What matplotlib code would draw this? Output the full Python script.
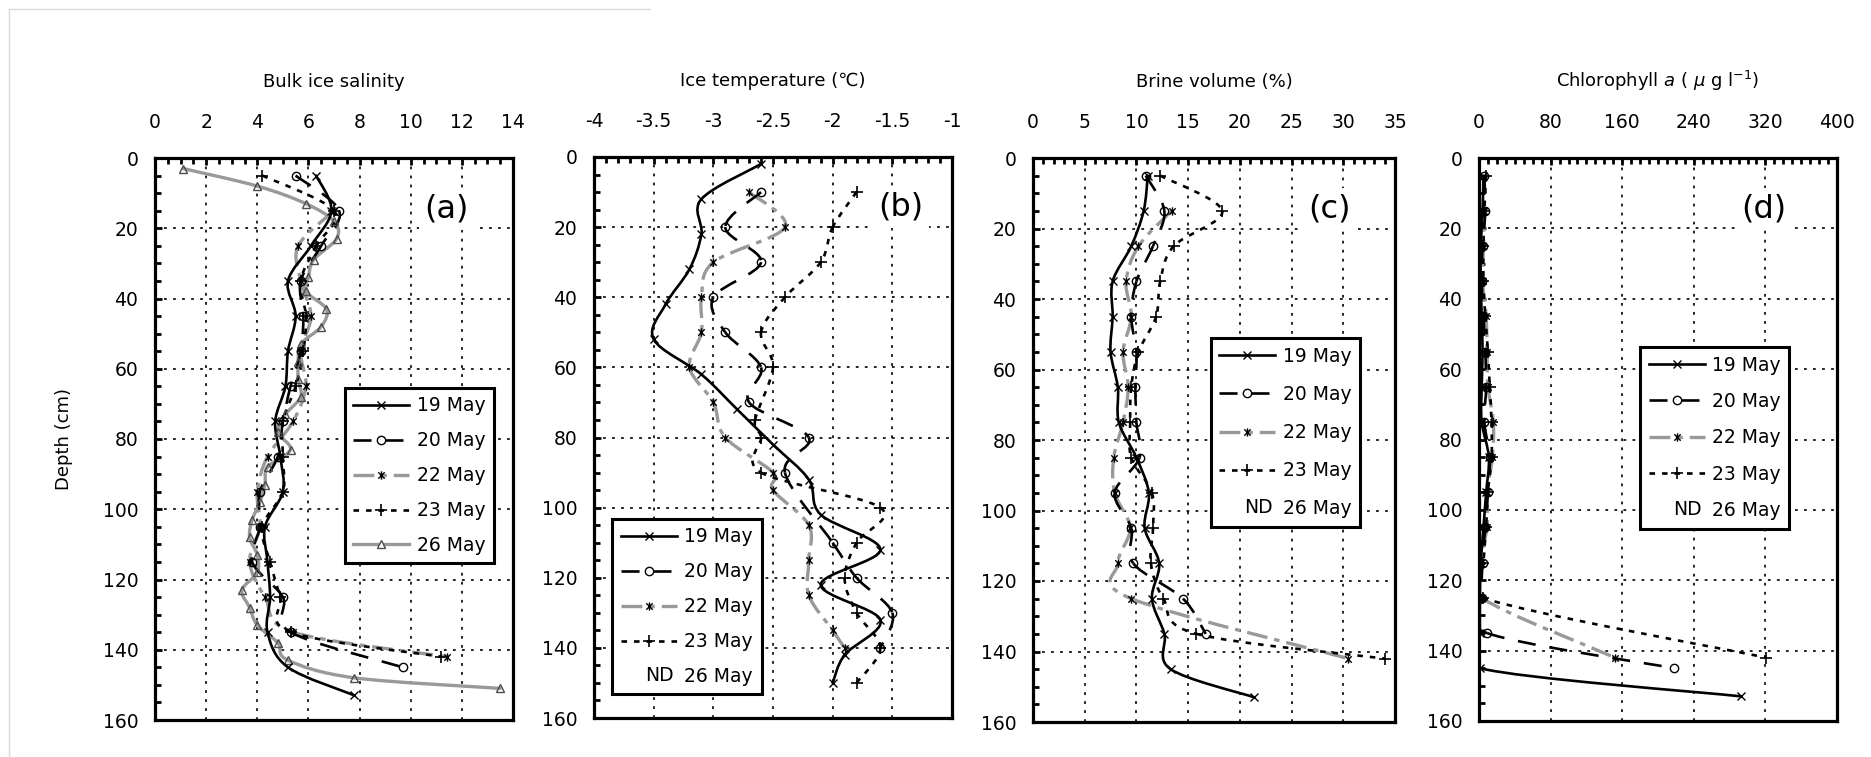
import numpy as np
import matplotlib
matplotlib.use('Agg')
import matplotlib.pyplot as plt
from matplotlib.path import Path
from matplotlib.patches import PathPatch
from matplotlib.lines import Line2D
from matplotlib.legend_handler import HandlerBase
from matplotlib.text import Text
from matplotlib.ticker import MultipleLocator

plt.rcParams['font.family'] = ['DejaVu Sans']
plt.rcParams['lines.scale_dashes'] = False

dates = ['19 May', '20 May', '22 May', '23 May', '26 May']

# (a) bulk ice salinity
sal_d_19 = [5, 15, 25, 35, 45, 55, 65, 75, 85, 95, 105, 115, 125, 135, 145, 153]
sal_19 = [6.3, 6.9, 6.1, 5.2, 5.5, 5.2, 5.1, 4.7, 4.9, 5.0, 4.3, 4.4, 4.5, 4.4, 5.2, 7.8]
sal_d_20 = [5, 15, 25, 35, 45, 55, 65, 75, 85, 95, 105, 115, 125, 135, 145]
sal_20 = [5.5, 7.2, 6.5, 5.7, 5.8, 5.7, 5.3, 5.0, 4.8, 4.1, 4.1, 3.8, 5.0, 5.3, 9.7]
sal_d_22 = [15, 25, 35, 45, 55, 65, 75, 85, 95, 105, 115, 125, 135, 142]
sal_22 = [7.0, 5.6, 5.7, 6.1, 5.7, 5.9, 5.4, 4.4, 4.0, 4.1, 3.7, 4.3, 5.4, 11.4]
sal_d_23 = [5, 15, 25, 35, 45, 55, 65, 75, 85, 95, 105, 115, 125, 135, 142]
sal_23 = [4.2, 7.0, 6.3, 5.7, 5.9, 5.8, 5.5, 5.0, 5.0, 5.0, 4.2, 4.5, 4.9, 5.3, 11.2]
sal_d_26 = [3, 8, 13, 18, 23, 29, 34, 38, 43, 48, 53, 58, 63, 68, 73, 78, 83, 88,
            93, 98, 103, 108, 113, 118, 123, 128, 133, 138, 143, 148, 151]
sal_26 = [1.1, 4.0, 5.9, 7.0, 7.1, 6.2, 6.0, 5.9, 6.7, 6.5, 5.7, 5.6, 5.6, 5.7, 5.1, 4.8,
          5.3, 4.4, 4.3, 4.1, 3.8, 3.7, 4.0, 4.0, 3.4, 3.7, 4.0, 4.8, 5.2, 7.8, 13.5]

# (b) ice temperature
tmp_d_19 = [2, 12, 22, 32, 42, 52, 62, 72, 82, 92, 102, 112, 122, 132, 142, 150]
tmp_19 = [-2.6, -3.1, -3.1, -3.2, -3.4, -3.5, -3.1, -2.8, -2.5, -2.2, -2.1, -1.6, -2.1, -1.6, -1.9, -2.0]
tmp_d_20 = [10, 20, 30, 40, 50, 60, 70, 80, 90, 110, 120, 130, 140]
tmp_20 = [-2.6, -2.9, -2.6, -3.0, -2.9, -2.6, -2.7, -2.2, -2.4, -2.0, -1.8, -1.5, -1.6]
tmp_d_22 = [10, 20, 30, 40, 50, 60, 70, 80, 90, 95, 105, 115, 125, 135, 140]
tmp_22 = [-2.7, -2.4, -3.0, -3.1, -3.1, -3.2, -3.0, -2.9, -2.5, -2.5, -2.2, -2.2, -2.2, -2.0, -1.9]
tmp_d_23 = [10, 20, 30, 40, 50, 60, 75, 80, 90, 100, 110, 120, 130, 140, 150]
tmp_23 = [-1.8, -2.0, -2.1, -2.4, -2.6, -2.5, -2.65, -2.6, -2.6, -1.6, -1.8, -1.9, -1.8, -1.6, -1.8]

# (c) brine volume
bv_d_19 = [5, 15, 25, 35, 45, 55, 65, 75, 85, 95, 105, 115, 125, 135, 145, 153]
bv_19 = [11.1, 10.7, 9.5, 7.7, 7.7, 7.5, 8.2, 8.3, 10.0, 11.2, 10.8, 12.2, 11.5, 12.7, 13.3, 21.4]
bv_d_20 = [5, 15, 25, 35, 45, 55, 65, 75, 85, 95, 105, 115, 125, 135]
bv_20 = [10.9, 12.7, 11.6, 10.0, 9.5, 10.0, 9.9, 10.0, 10.3, 7.9, 9.5, 9.7, 14.5, 16.7]
bv_d_22 = [15, 25, 35, 45, 55, 65, 75, 85, 95, 105, 115, 125, 142]
bv_22 = [13.4, 10.2, 9.0, 9.5, 8.7, 9.2, 8.7, 7.8, 7.9, 9.4, 8.2, 9.5, 30.5]
bv_d_23 = [5, 15, 25, 35, 45, 55, 65, 75, 85, 95, 105, 115, 125, 135, 142]
bv_23 = [12.3, 18.3, 13.6, 12.3, 11.9, 10.2, 9.5, 9.4, 9.5, 11.5, 11.6, 11.4, 12.6, 15.8, 34.0]

# (d) chlorophyll a
chl_d_19 = [5, 15, 25, 35, 45, 55, 65, 75, 85, 95, 105, 115, 125, 135, 145, 153]
chl_19 = [5, 4, 2, 2, 3, 4, 3, 3, 11, 8, 5, 2, 1, 1, 1, 293]
chl_d_20 = [5, 15, 25, 35, 45, 55, 65, 75, 85, 95, 105, 115, 125, 135, 145]
chl_20 = [6, 7, 4, 3, 5, 7, 8, 6, 12, 10, 7, 4, 3, 9, 218]
chl_d_22 = [15, 25, 35, 45, 55, 65, 75, 85, 95, 105, 115, 125, 142]
chl_22 = [6, 5, 4, 8, 9, 10, 16, 15, 9, 9, 1, 3, 152]
chl_d_23 = [5, 15, 25, 35, 45, 55, 65, 75, 85, 95, 105, 115, 125, 142]
chl_23 = [8, 6, 5, 5, 7, 10, 12, 14, 14, 10, 8, 5, 4, 321]

depth_ticks = list(range(0, 161, 20))
sal_ticks = [0, 2, 4, 6, 8, 10, 12, 14]
tmp_ticks = [-4, -3.5, -3, -2.5, -2, -1.5, -1]
tmp_tick_labels = ['-4', '-3.5', '-3', '-2.5', '-2', '-1.5', '-1']
bv_ticks = [0, 5, 10, 15, 20, 25, 30, 35]
chl_ticks = [0, 80, 160, 240, 320, 400]

STAR = Path([(-1, -1), (1, 1), (-1, 1), (1, -1), (0, -1.3), (0, 1.3)],
            [Path.MOVETO, Path.LINETO] * 3)

STYLES = {
    '19 May': dict(color='black', lw=1.9, ls='-', marker='x', ms=6, mec='black', mew=1.0),
    '20 May': dict(color='black', lw=1.9, ls=(0, (13, 10)), marker='o', ms=6, mec='black', mew=1.0),
    '22 May': dict(color='0.6', lw=2.4, ls=(0, (15, 5, 4, 5)), marker=STAR, ms=6, mec='black', mew=1.0),
    '23 May': dict(color='black', lw=1.9, ls=(0, (4, 5)), marker='+', ms=8, mec='black', mew=1.2),
    '26 May': dict(color='0.6', lw=2.4, ls='-', marker='^', ms=6, mec='0.3', mew=1.0),
}


def bezier_segments(x, y):
    # excel-like smoothed line: cubic bezier through the points
    p = np.column_stack([x, y]).astype(float)
    n = len(p)
    segs = []
    for i in range(n - 1):
        p0 = p[i - 1] if i > 0 else p[i]
        p3 = p[i + 2] if i + 2 < n else p[i + 1]
        c1 = p[i] + (p[i + 1] - p0) / 6.0
        c2 = p[i + 1] - (p3 - p[i]) / 6.0
        segs.append([p[i], c1, c2, p[i + 1]])
    return segs


def draw_series(ax, vals, depths, name):
    st = STYLES[name]
    segs = bezier_segments(vals, depths)
    if st['ls'] == '-':
        verts = [segs[0][0]]
        codes = [Path.MOVETO]
        for s in segs:
            verts += s[1:]
            codes += [Path.CURVE4] * 3
        ax.add_patch(PathPatch(Path(verts, codes), fill=False, ec=st['color'], lw=st['lw'],
                               capstyle='round', joinstyle='round', zorder=2))
    else:
        # dash pattern restarts at every point, as in the original
        for s in segs:
            path = Path(s, [Path.MOVETO, Path.CURVE4, Path.CURVE4, Path.CURVE4])
            ax.add_patch(PathPatch(path, fill=False, ec=st['color'], lw=st['lw'],
                                   ls=st['ls'], capstyle='butt', zorder=2))
    ax.plot(vals, depths, ls='none', marker=st['marker'], ms=st['ms'], mfc='none',
            mec=st['mec'], mew=st['mew'], zorder=3)


def handle(name):
    st = STYLES[name]
    return Line2D([], [], color=st['color'], lw=st['lw'], ls=st['ls'], marker=st['marker'],
                  ms=st['ms'], mfc='white', mec=st['mec'], mew=st['mew'])


class NDHandle:
    pass


class HandlerND(HandlerBase):
    def create_artists(self, legend, orig_handle, xdescent, ydescent, width, height, fontsize, trans):
        t = Text(width - xdescent - 0.15 * fontsize, height / 2 - ydescent, 'ND', ha='right',
                 va='center', fontsize=fontsize, transform=trans)
        return [t]


def add_legend(ax, with_26, loc, anchor, spacing):
    hs = [handle(n) for n in dates[:4]]
    hs.append(handle('26 May') if with_26 else NDHandle())
    leg = ax.legend(hs, dates, loc=loc, bbox_to_anchor=anchor, borderaxespad=0, fontsize=13.5,
                    handlelength=3.0, handletextpad=0.4, labelspacing=spacing, borderpad=0.45,
                    fancybox=False, framealpha=1, edgecolor='black', numpoints=1,
                    handler_map={NDHandle: HandlerND()})
    leg.get_frame().set_linewidth(2.2)
    leg.set_zorder(5)


def setup(ax, xlim, xticks, minor, title, label, lab_x, xlabels=None):
    ax.set_xlim(xlim)
    ax.set_ylim(160, 0)
    ax.set_xticks(xticks)
    if xlabels is not None:
        ax.set_xticklabels(xlabels)
    ax.set_yticks(depth_ticks)
    ax.xaxis.set_minor_locator(MultipleLocator(minor))
    ax.yaxis.set_minor_locator(MultipleLocator(5))
    ax.xaxis.tick_top()
    ax.tick_params(which='both', direction='in', top=True, bottom=False, left=True, right=False,
                   labelsize=13.5, width=2.0, color='black')
    ax.tick_params(which='major', length=5)
    ax.tick_params(which='minor', length=4)
    ax.tick_params(axis='x', pad=19)
    ax.tick_params(axis='y', pad=12)
    for sp in ax.spines.values():
        sp.set_linewidth(2.3)
    ax.grid(True, which='major', color='black', ls=(0, (2, 4.5)), lw=1.2)
    ax.set_axisbelow(True)
    ax.set_title(title, pad=51, fontsize=13)
    ax.text(lab_x, 0.91, label, transform=ax.transAxes, fontsize=23, ha='center', va='center',
            zorder=4, bbox=dict(facecolor='white', edgecolor='none', pad=4))


fig = plt.figure(figsize=(18.71, 7.57), dpi=100)
W, H = 1871.0, 757.0

# faint frame of the source page
fig.add_artist(Line2D([9 / W, 9 / W], [0, 1 - 9 / H], transform=fig.transFigure, color='0.86', lw=1))
fig.add_artist(Line2D([9 / W, 650 / W], [1 - 9 / H, 1 - 9 / H], transform=fig.transFigure, color='0.86', lw=1))

ax_a = fig.add_axes([155 / W, 1 - 720 / H, 358 / W, 562 / H])
ax_b = fig.add_axes([594 / W, 1 - 718 / H, 358 / W, 561 / H])
ax_c = fig.add_axes([1033 / W, 1 - 722 / H, 362 / W, 564 / H])
ax_d = fig.add_axes([1479 / W, 1 - 721 / H, 358 / W, 563 / H])

setup(ax_a, (0, 14), sal_ticks, 0.5, 'Bulk ice salinity', '(a)', 0.815)
setup(ax_b, (-4, -1), tmp_ticks, 0.1, 'Ice temperature (\u2103)', '(b)', 0.857, tmp_tick_labels)
setup(ax_c, (0, 35), bv_ticks, 1, 'Brine volume (%)', '(c)', 0.818)
setup(ax_d, (0, 400), chl_ticks, 10, 'Chlorophyll $a$ ( $\\mu$ g l$^{-1}$)', '(d)', 0.796)
ax_a.set_ylabel('Depth (cm)', fontsize=13, labelpad=21)

draw_series(ax_a, sal_26, sal_d_26, '26 May')
draw_series(ax_a, sal_22, sal_d_22, '22 May')
draw_series(ax_a, sal_23, sal_d_23, '23 May')
draw_series(ax_a, sal_20, sal_d_20, '20 May')
draw_series(ax_a, sal_19, sal_d_19, '19 May')

draw_series(ax_b, tmp_22, tmp_d_22, '22 May')
draw_series(ax_b, tmp_23, tmp_d_23, '23 May')
draw_series(ax_b, tmp_20, tmp_d_20, '20 May')
draw_series(ax_b, tmp_19, tmp_d_19, '19 May')

draw_series(ax_c, bv_22, bv_d_22, '22 May')
draw_series(ax_c, bv_23, bv_d_23, '23 May')
draw_series(ax_c, bv_20, bv_d_20, '20 May')
draw_series(ax_c, bv_19, bv_d_19, '19 May')

draw_series(ax_d, chl_22, chl_d_22, '22 May')
draw_series(ax_d, chl_23, chl_d_23, '23 May')
draw_series(ax_d, chl_20, chl_d_20, '20 May')
draw_series(ax_d, chl_19, chl_d_19, '19 May')

add_legend(ax_a, True, 'upper left', (0.53, 0.591), 0.85)
add_legend(ax_b, False, 'lower left', (0.051, 0.042), 0.85)
add_legend(ax_c, False, 'upper left', (0.491, 0.68), 1.02)
add_legend(ax_d, False, 'upper left', (0.45, 0.664), 0.93)

fig.savefig('out.png', dpi=100)
